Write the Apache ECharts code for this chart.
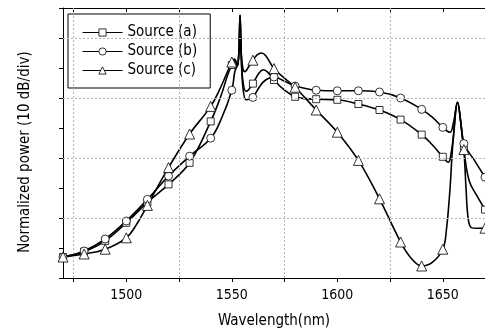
<!DOCTYPE html>
<html>
<head>
<meta charset="utf-8">
<script src="https://cdn.jsdelivr.net/npm/echarts@6/dist/echarts.min.js"></script>
<style>html,body{margin:0;padding:0;background:#fff;}#c{width:485px;height:334px;}</style>
</head>
<body>
<div id="c"></div>
<script>
// ---- data ----
var seriesNames = ['Source (a)', 'Source (b)', 'Source (c)'];
var xTickValues = [1475, 1500, 1525, 1550, 1575, 1600, 1625, 1650];
var xLabelValues = [1500, 1550, 1600, 1650];
var xGridValues = [1475, 1525, 1575, 1625];
var yGridValues = [10, 20, 30, 40];

var wlA = [1470,1480,1490,1500,1510,1520,1530,1540,1545,1548,1550,1551.3,1552.6,1553.4,1553.9,1554.4,1555.2,1556.7,1558,1560,1563,1565,1567,1570,1575,1580,1585,1590,1600,1610,1620,1630,1640,1645,1650,1652.6,1653.8,1655,1657,1658.5,1660,1662.5,1666,1670];
var pwA = [3.5,4.4,6.2,9.2,12.6,15.6,19.2,26.1,30.5,33.8,35.5,36.2,35.3,38,43.8,38,33,31.1,31.4,32.4,34.2,34.7,34.3,33.0,31.3,30.2,29.9,29.8,29.7,29.0,28.0,26.4,23.9,22.2,20.2,19.3,20.5,23.5,29.3,26,21.4,16.2,13.8,11.4];

var wlB = [1470,1480,1490,1500,1510,1520,1530,1540,1545,1550,1551.5,1552.8,1553.4,1553.9,1554.4,1555.2,1556.7,1558,1560,1563,1566,1570,1575,1580,1590,1600,1610,1620,1630,1640,1645,1650,1653.4,1655,1657,1658.5,1660,1665,1670];
var pwB = [3.5,4.5,6.5,9.5,13.1,17.0,20.3,23.3,26.5,31.3,34.5,35.6,38,43.8,38,32,29.7,29.8,30.1,31.8,33.0,33.5,32.8,32.0,31.3,31.2,31.2,31.0,30.0,28.1,26.8,25.1,24.3,25.8,29.2,26,22.4,19.6,16.8];

var wlC = [1470,1480,1490,1500,1505,1510,1520,1530,1540,1545,1550,1551.3,1552.6,1553.4,1553.9,1554.4,1555.2,1556.2,1558,1560,1562,1564,1566,1570,1575,1580,1590,1600,1610,1620,1630,1635,1640,1645,1650,1651.7,1653.4,1654.9,1657,1659,1660,1661,1662,1663.5,1666,1670];
var pwC = [3.5,4.0,4.8,6.7,9.0,12.1,18.4,24.0,28.6,32.0,36.0,36.5,35.5,38,43.8,38,35,34.4,35.2,36.3,37.2,37.5,37.1,34.9,33.3,31.8,28.0,24.3,19.6,13.2,6.0,3.3,2.0,2.6,4.8,8.0,14.8,23.0,29.3,24.5,21.4,15,10,8.4,8.3,8.3];

var FONT = "'DejaVu Sans Condensed', 'Liberation Sans Narrow', sans-serif";

function build(wl, pw) {
  return wl.map(function (x, i) {
    var item = { value: [x, pw[i]] };
    if (x % 10 !== 0) item.symbol = 'none';
    return item;
  });
}

function lineSeries(name, wl, pw, symbol, size) {
  return {
    name: name, type: 'line', data: build(wl, pw),
    smooth: 0.4,
    symbol: symbol, symbolSize: size, showSymbol: true, showAllSymbol: true,
    lineStyle: { color: '#000', width: 1.6 },
    itemStyle: { color: '#fff', borderColor: '#000', borderWidth: 0.8 },
    emphasis: { disabled: true }, z: 3
  };
}

var chart = echarts.init(document.getElementById('c'), null, { renderer: 'canvas' });
var gridMarks = xGridValues.map(function (v) { return { xAxis: v }; })
  .concat(yGridValues.map(function (v) { return { yAxis: v }; }));

chart.setOption({
  animation: false,
  backgroundColor: '#fff',
  grid: { left: 63, top: 8, width: 424, height: 271, containLabel: false },
  legend: {
    data: seriesNames, orient: 'vertical', left: 68, top: 14,
    itemWidth: 40, itemHeight: 9, itemGap: 4,
    padding: [11, 13, 10, 14],
    borderColor: '#000', borderWidth: 1, backgroundColor: '#fff',
    itemStyle: { borderWidth: 0.8 },
    lineStyle: { width: 1 },
    textStyle: { fontSize: 15, fontFamily: FONT, color: '#000' },
    selectedMode: false
  },
  xAxis: [{
    type: 'value', min: 1470, max: 1670, position: 'bottom',
    axisLine: { show: true, onZero: false, lineStyle: { color: '#000', width: 1 } },
    axisTick: { show: true, customValues: xTickValues, length: 4, lineStyle: { color: '#000' } },
    axisLabel: { customValues: xLabelValues, fontSize: 14, fontFamily: FONT, color: '#000', margin: 10,
      formatter: function (v) { return String(v); } },
    splitLine: { show: false },
    name: 'Wavelength(nm)', nameLocation: 'middle', nameGap: 36,
    nameTextStyle: { fontSize: 15, fontFamily: FONT, color: '#000' }
  }, {
    type: 'value', min: 1470, max: 1670, position: 'top',
    axisLine: { show: true, onZero: false, lineStyle: { color: '#000', width: 1 } },
    axisTick: { show: true, inside: true, customValues: xTickValues, length: 4, lineStyle: { color: '#000' } },
    axisLabel: { show: false }, splitLine: { show: false }
  }],
  yAxis: {
    type: 'value', min: 0, max: 45, interval: 5,
    axisLine: { show: true, onZero: false, lineStyle: { color: '#000', width: 1 } },
    axisTick: { show: true, length: 4, lineStyle: { color: '#000' } },
    axisLabel: { show: false }, splitLine: { show: false },
    name: 'Normalized power (10 dB/div)', nameLocation: 'middle', nameGap: 30, nameRotate: 90,
    nameTextStyle: { fontSize: 15, fontFamily: FONT, color: '#000', padding: [0, 18, 0, 0] }
  },
  series: [
    {
      name: 'grid', type: 'line', data: [], silent: true, z: 1,
      markLine: {
        silent: true, symbol: ['none', 'none'], label: { show: false }, animation: false,
        lineStyle: { color: '#b4b4b4', type: [2, 2], width: 1 },
        emphasis: { disabled: true }, data: gridMarks
      }
    },
    lineSeries(seriesNames[0], wlA, pwA, 'rect', 7),
    lineSeries(seriesNames[1], wlB, pwB, 'circle', 8),
    lineSeries(seriesNames[2], wlC, pwC, 'triangle', 10)
  ]
});
</script>
</body>
</html>
